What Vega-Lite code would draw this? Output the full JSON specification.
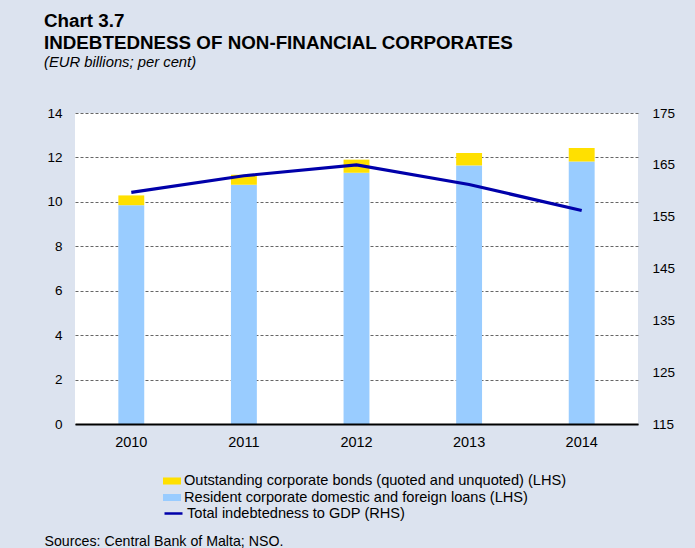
{
  "$schema": "https://vega.github.io/schema/vega-lite/v6.json",
  "width": 563,
  "height": 311,
  "autosize": {"type": "none"},
  "padding": {"left": 75, "top": 113, "right": 57, "bottom": 124},
  "background": "#DCE3EF",
  "config": {
    "font": "Liberation Sans",
    "view": {"fill": "white", "stroke": null}
  },
  "title": {
    "text": ["Chart 3.7", "INDEBTEDNESS OF NON-FINANCIAL CORPORATES"],
    "subtitle": "(EUR billions; per cent)",
    "anchor": "start",
    "frame": "group",
    "dx": -31,
    "fontSize": 18.8,
    "fontWeight": "bold",
    "lineHeight": 22,
    "color": "black",
    "subtitleFontSize": 14.8,
    "subtitleFontStyle": "italic",
    "subtitleColor": "black",
    "subtitlePadding": 2,
    "offset": 36
  },
  "datasets": {
    "debt": [
      {"year": "2010", "series": "Resident corporate domestic and foreign loans (LHS)", "value": 9.85},
      {"year": "2010", "series": "Outstanding corporate bonds (quoted and unquoted) (LHS)", "value": 0.44},
      {"year": "2011", "series": "Resident corporate domestic and foreign loans (LHS)", "value": 10.77},
      {"year": "2011", "series": "Outstanding corporate bonds (quoted and unquoted) (LHS)", "value": 0.45},
      {"year": "2012", "series": "Resident corporate domestic and foreign loans (LHS)", "value": 11.31},
      {"year": "2012", "series": "Outstanding corporate bonds (quoted and unquoted) (LHS)", "value": 0.59},
      {"year": "2013", "series": "Resident corporate domestic and foreign loans (LHS)", "value": 11.64},
      {"year": "2013", "series": "Outstanding corporate bonds (quoted and unquoted) (LHS)", "value": 0.56},
      {"year": "2014", "series": "Resident corporate domestic and foreign loans (LHS)", "value": 11.82},
      {"year": "2014", "series": "Outstanding corporate bonds (quoted and unquoted) (LHS)", "value": 0.60}
    ],
    "ratio": [
      {"year": "2010", "series": "Total indebtedness to GDP (RHS)", "ratio": 159.7},
      {"year": "2011", "series": "Total indebtedness to GDP (RHS)", "ratio": 162.9},
      {"year": "2012", "series": "Total indebtedness to GDP (RHS)", "ratio": 165.0},
      {"year": "2013", "series": "Total indebtedness to GDP (RHS)", "ratio": 161.2},
      {"year": "2014", "series": "Total indebtedness to GDP (RHS)", "ratio": 156.2}
    ]
  },
  "layer": [
    {
      "data": {"name": "debt"},
      "mark": {"type": "bar"},
      "encoding": {
        "x": {
          "field": "year",
          "type": "ordinal",
          "scale": {"paddingInner": 0.77},
          "axis": {
            "title": "Sources: Central Bank of Malta; NSO.",
            "titleX": -31,
            "titleY": 121,
            "titleAlign": "left",
            "titleAnchor": "start",
            "titleBaseline": "alphabetic",
            "titleFontWeight": "normal",
            "titleFontSize": 14.2,
            "titleColor": "black",
            "labelAngle": 0,
            "labelFontSize": 14.5,
            "labelColor": "black",
            "labelPadding": 11,
            "ticks": false,
            "domainColor": "black",
            "domainWidth": 2,
            "zindex": 1
          }
        },
        "y": {
          "field": "value",
          "type": "quantitative",
          "stack": "zero",
          "scale": {"domain": [0, 14]},
          "axis": {
            "title": null,
            "values": [0, 2, 4, 6, 8, 10, 12, 14],
            "labelFontSize": 13.5,
            "labelColor": "black",
            "labelPadding": 13,
            "ticks": false,
            "domain": false,
            "gridColor": "#666666",
            "gridDash": [3, 2],
            "gridWidth": 1
          }
        },
        "color": {
          "field": "series",
          "type": "nominal",
          "scale": {
            "domain": ["Outstanding corporate bonds (quoted and unquoted) (LHS)", "Resident corporate domestic and foreign loans (LHS)"],
            "range": ["#FFE000", "#99CCFF"]
          },
          "legend": {
            "orient": "none",
            "legendX": 88,
            "legendY": 359,
            "direction": "vertical",
            "title": null,
            "symbolType": "M-1,-0.39H1V0.39H-1Z",
            "symbolSize": 324,
            "symbolStrokeWidth": 0,
            "labelFontSize": 14.6,
            "labelColor": "black",
            "labelOffset": 3,
            "rowPadding": 0.5,
            "padding": 0,
            "labelLimit": 500
          }
        },
        "order": {"field": "series", "sort": "descending"}
      }
    },
    {
      "data": {"name": "ratio"},
      "mark": {"type": "line", "strokeWidth": 3.2},
      "encoding": {
        "x": {"field": "year", "type": "ordinal"},
        "y": {
          "field": "ratio",
          "type": "quantitative",
          "scale": {"domain": [115, 175]},
          "axis": {
            "orient": "right",
            "title": null,
            "values": [115, 125, 135, 145, 155, 165, 175],
            "labelFontSize": 13.5,
            "labelColor": "black",
            "labelPadding": 14,
            "ticks": false,
            "domain": false,
            "grid": false
          }
        },
        "stroke": {
          "field": "series",
          "type": "nominal",
          "scale": {"range": ["#0000AA"]},
          "legend": {
            "orient": "none",
            "legendX": 88,
            "legendY": 390,
            "title": null,
            "symbolType": "stroke",
            "symbolSize": 324,
            "symbolStrokeWidth": 2.5,
            "labelFontSize": 14.6,
            "labelColor": "black",
            "labelOffset": 3,
            "padding": 0,
            "labelLimit": 500
          }
        }
      }
    }
  ],
  "resolve": {"scale": {"y": "independent"}}
}
